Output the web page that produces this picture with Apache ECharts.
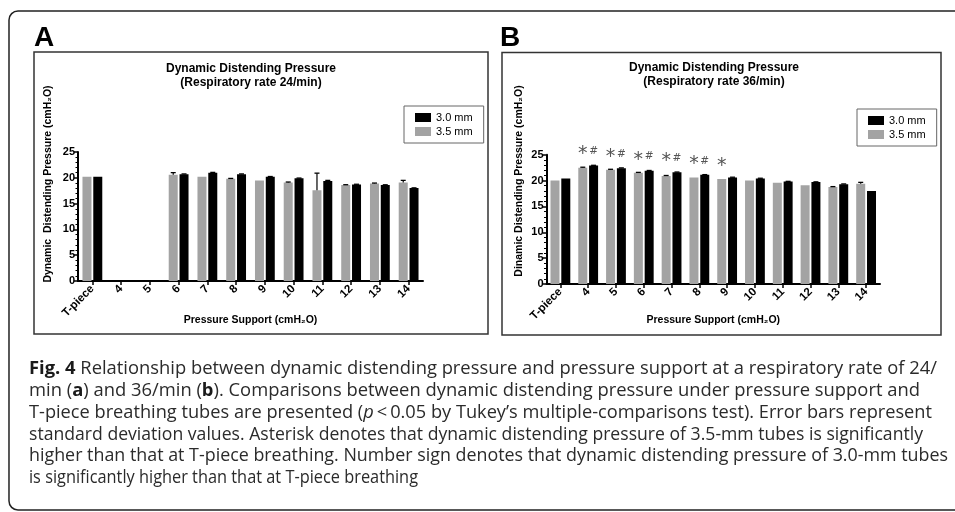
<!DOCTYPE html>
<html><head><meta charset="utf-8">
<script src="https://cdn.jsdelivr.net/npm/echarts@6/dist/echarts.min.js"></script>
<style>html,body{margin:0;padding:0;background:#fff}#c{width:955px;height:512px}</style>
</head><body><div id="c"></div>
<script>
// ---------- data ----------
const categories = ['T-piece','4','5','6','7','8','9','10','11','12','13','14'];
const seriesNames = ['3.5 mm','3.0 mm'];
const legendOrder = ['3.0 mm','3.5 mm'];
const yTicks = [0,5,10,15,20,25];
// Panel A: respiratory rate 24/min
const a35 = [20.2, null, null, 20.6, 20.2, 19.8, 19.5, 19.1, 17.6, 18.6, 18.9, 19.1];
const a30 = [20.2, null, null, 20.7, 21.0, 20.7, 20.2, 19.9, 19.4, 18.7, 18.6, 18.0];
const a35sd = [null, null, null, 0.4, null, 0.08, null, 0.08, 3.3, 0.06, 0.08, 0.4];
const a30sd = [null, null, null, 0.05, 0.05, 0.05, 0.05, 0.05, 0.1, 0.05, 0.05, 0.05];
// Panel B: respiratory rate 36/min
const b35 = [20.0, 22.5, 22.1, 21.5, 20.9, 20.6, 20.3, 20.0, 19.6, 19.1, 18.75, 19.4];
const b30 = [20.4, 22.9, 22.4, 21.9, 21.6, 21.1, 20.6, 20.4, 19.8, 19.7, 19.3, 18.0];
const b35sd = [null, 0.08, 0.08, 0.08, 0.08, null, null, null, null, null, 0.08, 0.25];
const b30sd = [null, 0.05, 0.05, 0.05, 0.05, 0.05, 0.05, 0.05, 0.05, 0.05, 0.05, null];
const bStar = ['', '*', '*', '*', '*', '*', '*', '', '', '', '', ''];
const bHash = ['', '#', '#', '#', '#', '#', '', '', '', '', '', ''];
// texts
const panelTitles = ['Dynamic Distending Pressure\n(Respiratory rate 24/min)', 'Dynamic Distending Pressure\n(Respiratory rate 36/min)'];
const yTitles = ['Dynamic  Distending Pressure (cmH\u2082O)', 'Dinamic Distending Pressure (cmH\u2082O)'];
const xTitle = 'Pressure Support (cmH\u2082O)';
const panelLetters = ['A','B'];
const captionLines = [
  [['b','Fig. 4'],['n',' Relationship between dynamic distending pressure and pressure support at a respiratory rate of 24/']],
  [['n','min ('],['b','a'],['n',') and 36/min ('],['b','b'],['n','). Comparisons between dynamic distending pressure under pressure support and']],
  [['n','T-piece breathing tubes are presented ('],['i','p'],['n','\u2009<\u20090.05 by Tukey\u2019s multiple-comparisons test). Error bars represent']],
  [['n','standard deviation values. Asterisk denotes that dynamic distending pressure of 3.5-mm tubes is significantly']],
  [['n','higher than that at T-piece breathing. Number sign denotes that dynamic distending pressure of 3.0-mm tubes']],
  [['n','is significantly higher than that at T-piece breathing']]
];

// ---------- styles / layout ----------
const FONT = '"Liberation Sans", Arial, Helvetica, sans-serif';
const CAP_FONT = '"Open Sans", "Noto Sans", sans-serif';
const CAP_SIZE = 18;
const BW = 9, GAP = 1.8, OFF = (BW + GAP) / 2;
const GRAY = '#a3a3a3';
const grids = [
  {left: 78, top: 152, width: 345, height: 129},
  {left: 546.5, top: 154.7, width: 333.5, height: 129.3}
];
const nameGaps = [34, 31];
const capLeft = 29, capTop = 369, capStep = 21.8;
const capRight = [937, 920, 932, 923, 948, 418];

const chart = echarts.init(document.getElementById('c'), null, {renderer: 'canvas'});

function errData(vals, sds) {
  const d = [];
  vals.forEach((v, i) => { if (v != null && sds[i] != null) d.push([i, v, sds[i]]); });
  return d;
}
function errSeries(idx, vals, sds, side) {
  return {
    type: 'custom', xAxisIndex: idx, yAxisIndex: idx, z: 5, silent: true,
    data: errData(vals, sds), encode: {x: 0, y: 1},
    renderItem: (p, api) => {
      const i = api.value(0), v = api.value(1), s = api.value(2);
      const b = api.coord([i, v]);
      const t = api.coord([i, v + s]);
      const x = b[0] + side * OFF;
      return {type: 'group', children: [
        {type: 'line', shape: {x1: x, y1: b[1], x2: x, y2: t[1]}, style: {stroke: '#000', lineWidth: 1.2}},
        {type: 'line', shape: {x1: x - 2.5, y1: t[1], x2: x + 2.5, y2: t[1]}, style: {stroke: '#000', lineWidth: 1.3}}
      ]};
    }
  };
}
function barSeries(idx, name, data, color) {
  return {type: 'bar', name: name, xAxisIndex: idx, yAxisIndex: idx, data: data,
    barWidth: BW, barGap: (GAP / BW * 100) + '%', itemStyle: {color: color}, silent: true, z: 2};
}
function xAxisOf(idx) {
  return {
    type: 'category', gridIndex: idx, data: categories,
    axisLine: {show: true, lineStyle: {color: '#000', width: 2}},
    axisTick: {show: true, alignWithLabel: true, length: 4, lineStyle: {color: '#000', width: 1.5}},
    axisLabel: {rotate: 45, interval: 0, margin: 6, color: '#000', fontWeight: 'bold', fontSize: 11.5, fontFamily: FONT},
    splitLine: {show: false},
    name: xTitle, nameLocation: 'middle', nameGap: nameGaps[idx], nameMoveOverlap: false,
    nameTextStyle: {color: '#000', fontWeight: 'bold', fontSize: 10.5, fontFamily: FONT}
  };
}
function yAxisOf(idx) {
  return {
    type: 'value', gridIndex: idx, min: yTicks[0], max: yTicks[yTicks.length - 1], interval: yTicks[1] - yTicks[0],
    axisLine: {show: true, lineStyle: {color: '#000', width: 2}},
    axisTick: {show: true, length: 4, lineStyle: {color: '#000', width: 1.5}},
    minorTick: {show: true, splitNumber: 5, length: 2.5, lineStyle: {color: '#000', width: 1}},
    axisLabel: {color: '#000', fontWeight: 'bold', fontSize: 11, fontFamily: FONT, margin: 3},
    splitLine: {show: false}, minorSplitLine: {show: false}
  };
}
function legendOf(left, top) {
  return {
    left: left, top: top, orient: 'vertical', data: legendOrder, icon: 'rect',
    itemWidth: 16, itemHeight: 9, itemGap: 3, padding: [6, 11, 6, 11],
    borderColor: '#666', borderWidth: 1, selectedMode: false,
    textStyle: {color: '#000', fontSize: 11, fontFamily: FONT}
  };
}
function annotSeries() {
  return {
    type: 'custom', xAxisIndex: 1, yAxisIndex: 1, z: 6, silent: true,
    data: categories.map((c, i) => [i, Math.max(b35[i] + (b35sd[i] || 0), b30[i])]),
    encode: {x: 0, y: 1},
    renderItem: (p, api) => {
      const i = api.value(0);
      const c = api.coord([i, api.value(1)]);
      const kids = [];
      if (bStar[i]) kids.push({type: 'text', x: c[0] - OFF, y: c[1] - 11,
        style: {text: bStar[i], fill: '#555', font: '19px "DejaVu Sans", sans-serif', align: 'center', verticalAlign: 'middle'}});
      if (bHash[i]) kids.push({type: 'text', x: c[0] + OFF, y: c[1] - 14,
        style: {text: bHash[i], fill: '#555', font: '10.5px "DejaVu Sans", sans-serif', align: 'center', verticalAlign: 'middle'}});
      return {type: 'group', children: kids};
    }
  };
}

// caption: measure to fit line widths
const mctx = document.createElement('canvas').getContext('2d');
function segFont(k) {
  return (k === 'i' ? 'italic ' : 'normal ') + (k === 'b' ? 'bold ' : 'normal ') + CAP_SIZE + 'px ' + CAP_FONT;
}
const capRich = {
  n: {fontFamily: CAP_FONT, fontSize: CAP_SIZE, fill: '#2b2b2b'},
  b: {fontFamily: CAP_FONT, fontSize: CAP_SIZE, fontWeight: 'bold', fill: '#1a1a1a'},
  i: {fontFamily: CAP_FONT, fontSize: CAP_SIZE, fontStyle: 'italic', fill: '#2b2b2b'}
};
const captionGraphics = captionLines.map((segs, li) => {
  let w = 0;
  segs.forEach(s => { mctx.font = segFont(s[0]); w += mctx.measureText(s[1]).width; });
  const sx = w > 0 ? (capRight[li] - capLeft) / w : 1;
  return {
    type: 'text', x: capLeft, y: capTop + li * capStep, scaleX: sx, silent: true,
    style: {text: segs.map(s => '{' + s[0] + '|' + s[1] + '}').join(''), rich: capRich, verticalAlign: 'middle', align: 'left'}
  };
});

const graphics = [
  {type: 'rect', shape: {x: 9, y: 11, width: 990, height: 499, r: 9}, style: {fill: 'none', stroke: '#222', lineWidth: 1.5}, silent: true},
  {type: 'rect', shape: {x: 34, y: 52, width: 454, height: 282}, style: {fill: 'none', stroke: '#333', lineWidth: 1.5}, silent: true},
  {type: 'rect', shape: {x: 502, y: 52.5, width: 439, height: 282.5}, style: {fill: 'none', stroke: '#333', lineWidth: 1.5}, silent: true},
  {type: 'text', x: 34, y: 38.5, style: {text: panelLetters[0], font: 'bold 28px ' + FONT, fill: '#000', verticalAlign: 'middle'}, silent: true},
  {type: 'text', x: 500, y: 38.5, style: {text: panelLetters[1], font: 'bold 28px ' + FONT, fill: '#000', verticalAlign: 'middle'}, silent: true},
  {type: 'text', x: 48, y: 184, rotation: Math.PI / 2, style: {text: yTitles[0], font: 'bold 10.5px ' + FONT, fill: '#000', align: 'center', verticalAlign: 'middle'}, silent: true},
  {type: 'text', x: 519, y: 181, rotation: Math.PI / 2, style: {text: yTitles[1], font: 'bold 10.5px ' + FONT, fill: '#000', align: 'center', verticalAlign: 'middle'}, silent: true}
].concat(captionGraphics);

const option = {
  animation: false,
  backgroundColor: '#fff',
  title: [
    {text: panelTitles[0], left: 251, top: 62, padding: 0, textAlign: 'center',
     textStyle: {fontSize: 12, fontWeight: 'bold', fontFamily: FONT, color: '#000', lineHeight: 14}},
    {text: panelTitles[1], left: 714, top: 61, padding: 0, textAlign: 'center',
     textStyle: {fontSize: 12, fontWeight: 'bold', fontFamily: FONT, color: '#000', lineHeight: 14}}
  ],
  legend: [legendOf(404, 106), legendOf(857, 109)],
  grid: grids.map(g => Object.assign({containLabel: false, outerBoundsMode: 'none'}, g)),
  xAxis: [xAxisOf(0), xAxisOf(1)],
  yAxis: [yAxisOf(0), yAxisOf(1)],
  series: [
    barSeries(0, seriesNames[0], a35, GRAY),
    barSeries(0, seriesNames[1], a30, '#000'),
    barSeries(1, seriesNames[0], b35, GRAY),
    barSeries(1, seriesNames[1], b30, '#000'),
    errSeries(0, a35, a35sd, -1),
    errSeries(0, a30, a30sd, 1),
    errSeries(1, b35, b35sd, -1),
    errSeries(1, b30, b30sd, 1),
    annotSeries()
  ],
  graphic: graphics
};
chart.setOption(option);
</script></body></html>
